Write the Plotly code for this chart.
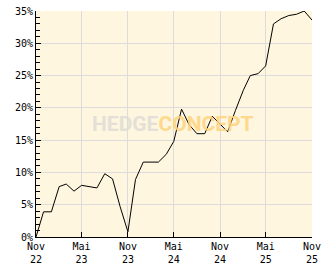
import plotly.graph_objects as go

months = ["2022-11-01","2022-12-01","2023-01-01","2023-02-01","2023-03-01","2023-04-01",
          "2023-05-01","2023-06-01","2023-07-01","2023-08-01","2023-09-01","2023-10-01",
          "2023-11-01","2023-12-01","2024-01-01","2024-02-01","2024-03-01","2024-04-01",
          "2024-05-01","2024-06-01","2024-07-01","2024-08-01","2024-09-01","2024-10-01",
          "2024-11-01","2024-12-01","2025-01-01","2025-02-01","2025-03-01","2025-04-01",
          "2025-05-01","2025-06-01","2025-07-01","2025-08-01","2025-09-01","2025-10-01",
          "2025-11-01"]
performance = [0.0, 3.9, 3.9, 7.8, 8.2, 7.1,
               8.0, 7.8, 7.6, 9.8, 9.0, 4.7,
               0.8, 8.9, 11.6, 11.6, 11.6, 12.8,
               14.8, 19.8, 17.4, 16.0, 16.0, 18.7,
               17.5, 16.3, 19.6, 22.7, 25.0, 25.3,
               26.5, 33.0, 33.8, 34.3, 34.5, 35.0,
               33.6]

tick_dates = ["2022-11-01","2023-05-01","2023-11-01","2024-05-01","2024-11-01","2025-05-01","2025-11-01"]
tick_labels = ["Nov<br>22","Mai<br>23","Nov<br>23","Mai<br>24","Nov<br>24","Mai<br>25","Nov<br>25"]
y_ticks = [0, 5, 10, 15, 20, 25, 30, 35]

mono = "DejaVu Sans Mono"

fig = go.Figure()
fig.add_trace(go.Scatter(x=months, y=performance, mode="lines",
                         line=dict(color="black", width=1), hoverinfo="skip"))

fig.update_layout(
    width=332, height=269,
    margin=dict(l=36, r=20, t=11, b=32),
    paper_bgcolor="white",
    plot_bgcolor="#FEF6DF",
    showlegend=False,
    font=dict(family=mono, size=10, color="black"),
    annotations=[dict(
        text="<b><span style='color:#E0DDD6'>HEDGE</span><span style='color:#FFD47E'>CONCEPT</span></b>",
        xref="paper", yref="paper", x=0.497, y=0.5, xanchor="center", yanchor="middle",
        showarrow=False, opacity=0.85,
        font=dict(family="Roboto", size=21),
    )],
)

fig.update_xaxes(
    type="date", range=["2022-11-01", "2025-11-01"],
    tickmode="array", tickvals=tick_dates, ticktext=tick_labels,
    showgrid=True, gridcolor="#DCDCDC", gridwidth=1,
    showline=True, linecolor="black", linewidth=1,
    ticks="inside", ticklen=5, tickcolor="black",
    tickfont=dict(family=mono, size=10, color="black"),
    zeroline=False, automargin=False,
)
fig.update_yaxes(
    range=[0, 35], tickmode="array", tickvals=y_ticks,
    ticktext=[f"{v}%" for v in y_ticks],
    showgrid=True, gridcolor="#DCDCDC", gridwidth=1,
    showline=True, linecolor="black", linewidth=1,
    ticks="inside", ticklen=5, tickcolor="black",
    minor=dict(tickmode="linear", tick0=0, dtick=1, ticks="inside", ticklen=4,
               tickcolor="black", showgrid=False),
    tickfont=dict(family=mono, size=10, color="black"),
    zeroline=False, automargin=False,
)

fig.write_html("out.html")
